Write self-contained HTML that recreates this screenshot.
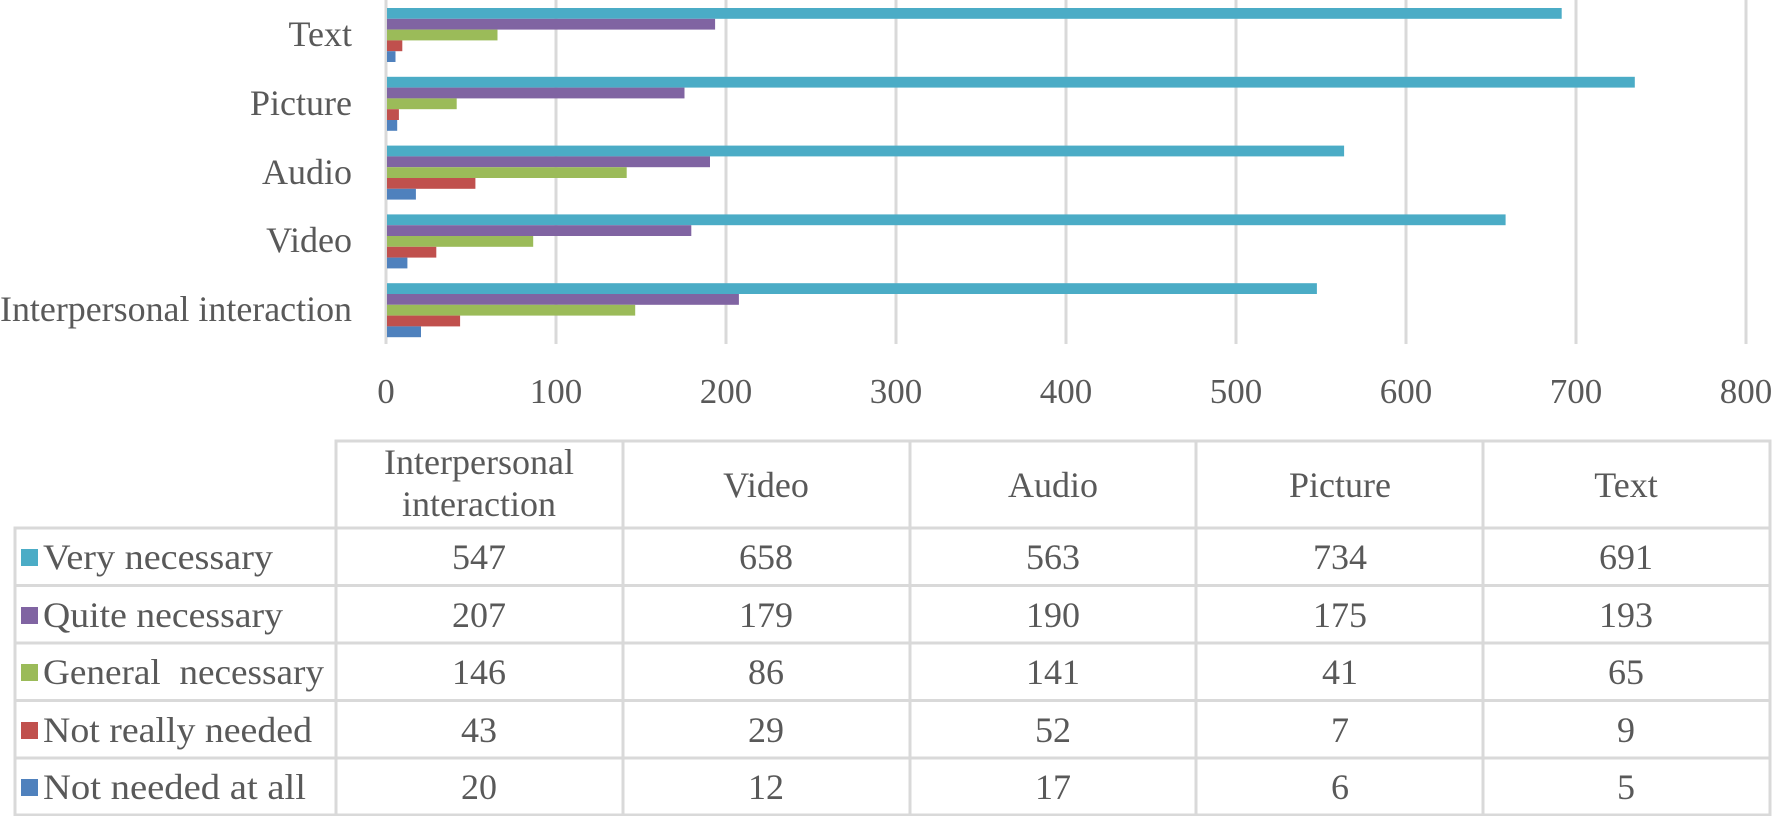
<!DOCTYPE html>
<html><head><meta charset="utf-8"><style>
html,body{margin:0;padding:0;background:#fff;}
svg{display:block;}
text{font-family:"Liberation Serif",serif;fill:#595959;}
</style></head><body>
<svg width="1772" height="816" viewBox="0 0 1772 816" xmlns="http://www.w3.org/2000/svg">
<g stroke="#d9d9d9" stroke-width="3">
<line x1="556" y1="0" x2="556" y2="344"/><line x1="726" y1="0" x2="726" y2="344"/><line x1="896" y1="0" x2="896" y2="344"/><line x1="1066" y1="0" x2="1066" y2="344"/><line x1="1236" y1="0" x2="1236" y2="344"/><line x1="1406" y1="0" x2="1406" y2="344"/><line x1="1576" y1="0" x2="1576" y2="344"/><line x1="1746" y1="0" x2="1746" y2="344"/>
<line x1="386" y1="0" x2="386" y2="344"/>
</g>
<g>
<rect x="387" y="8" width="1174.7" height="10.8" fill="#4BACC6"/>
<rect x="387" y="18.8" width="328.1" height="10.8" fill="#8064A2"/>
<rect x="387" y="29.6" width="110.5" height="10.8" fill="#9BBB59"/>
<rect x="387" y="40.4" width="15.3" height="10.8" fill="#C0504D"/>
<rect x="387" y="51.2" width="8.5" height="10.8" fill="#4F81BD"/>
<rect x="387" y="76.8" width="1247.8" height="10.8" fill="#4BACC6"/>
<rect x="387" y="87.6" width="297.5" height="10.8" fill="#8064A2"/>
<rect x="387" y="98.4" width="69.7" height="10.8" fill="#9BBB59"/>
<rect x="387" y="109.2" width="11.9" height="10.8" fill="#C0504D"/>
<rect x="387" y="120" width="10.2" height="10.8" fill="#4F81BD"/>
<rect x="387" y="145.6" width="957.1" height="10.8" fill="#4BACC6"/>
<rect x="387" y="156.4" width="323" height="10.8" fill="#8064A2"/>
<rect x="387" y="167.2" width="239.7" height="10.8" fill="#9BBB59"/>
<rect x="387" y="178" width="88.4" height="10.8" fill="#C0504D"/>
<rect x="387" y="188.8" width="28.9" height="10.8" fill="#4F81BD"/>
<rect x="387" y="214.4" width="1118.6" height="10.8" fill="#4BACC6"/>
<rect x="387" y="225.2" width="304.3" height="10.8" fill="#8064A2"/>
<rect x="387" y="236" width="146.2" height="10.8" fill="#9BBB59"/>
<rect x="387" y="246.8" width="49.3" height="10.8" fill="#C0504D"/>
<rect x="387" y="257.6" width="20.4" height="10.8" fill="#4F81BD"/>
<rect x="387" y="283.2" width="929.9" height="10.8" fill="#4BACC6"/>
<rect x="387" y="294" width="351.9" height="10.8" fill="#8064A2"/>
<rect x="387" y="304.8" width="248.2" height="10.8" fill="#9BBB59"/>
<rect x="387" y="315.6" width="73.1" height="10.8" fill="#C0504D"/>
<rect x="387" y="326.4" width="34" height="10.8" fill="#4F81BD"/>
</g>
<g font-size="36" text-anchor="end">
<text x="352" y="46">Text</text>
<text x="352" y="115">Picture</text>
<text x="352" y="184">Audio</text>
<text x="352" y="252">Video</text>
<text x="352" y="321" textLength="352" lengthAdjust="spacingAndGlyphs">Interpersonal interaction</text>
</g>
<g font-size="35" text-anchor="middle">
<text x="386" y="403">0</text><text x="556" y="403">100</text><text x="726" y="403">200</text><text x="896" y="403">300</text><text x="1066" y="403">400</text><text x="1236" y="403">500</text><text x="1406" y="403">600</text><text x="1576" y="403">700</text><text x="1746" y="403">800</text>
</g>
<g stroke="#d9d9d9" stroke-width="3" fill="none">
<rect x="336" y="441" width="1434" height="87"/>
<rect x="15" y="528" width="1755" height="287"/>
<line x1="15" y1="585.5" x2="1770" y2="585.5"/><line x1="15" y1="643" x2="1770" y2="643"/><line x1="15" y1="700.5" x2="1770" y2="700.5"/><line x1="15" y1="758" x2="1770" y2="758"/>
<line x1="336" y1="441" x2="336" y2="815"/><line x1="623" y1="441" x2="623" y2="815"/><line x1="910" y1="441" x2="910" y2="815"/><line x1="1196" y1="441" x2="1196" y2="815"/><line x1="1483" y1="441" x2="1483" y2="815"/>
</g>
<g font-size="36" text-anchor="middle">
<text x="479" y="474">Interpersonal</text><text x="479" y="516">interaction</text>
<text x="766" y="497">Video</text><text x="1053" y="497">Audio</text><text x="1340" y="497">Picture</text><text x="1626" y="497">Text</text>
<text x="479" y="569">547</text><text x="766" y="569">658</text><text x="1053" y="569">563</text><text x="1340" y="569">734</text><text x="1626" y="569">691</text>
<text x="479" y="627">207</text><text x="766" y="627">179</text><text x="1053" y="627">190</text><text x="1340" y="627">175</text><text x="1626" y="627">193</text>
<text x="479" y="684">146</text><text x="766" y="684">86</text><text x="1053" y="684">141</text><text x="1340" y="684">41</text><text x="1626" y="684">65</text>
<text x="479" y="742">43</text><text x="766" y="742">29</text><text x="1053" y="742">52</text><text x="1340" y="742">7</text><text x="1626" y="742">9</text>
<text x="479" y="799">20</text><text x="766" y="799">12</text><text x="1053" y="799">17</text><text x="1340" y="799">6</text><text x="1626" y="799">5</text>
</g>
<rect x="21" y="549" width="17" height="17" fill="#4BACC6"/>
<rect x="21" y="607" width="17" height="17" fill="#8064A2"/>
<rect x="21" y="664" width="17" height="17" fill="#9BBB59"/>
<rect x="21" y="722" width="17" height="17" fill="#C0504D"/>
<rect x="21" y="779" width="17" height="17" fill="#4F81BD"/>
<g font-size="36">
<text x="43" y="569" textLength="230" lengthAdjust="spacingAndGlyphs">Very necessary</text>
<text x="43" y="627" textLength="240" lengthAdjust="spacingAndGlyphs">Quite necessary</text>
<text x="43" y="684" textLength="281" lengthAdjust="spacingAndGlyphs" xml:space="preserve">General  necessary</text>
<text x="43" y="742" textLength="269" lengthAdjust="spacingAndGlyphs">Not really needed</text>
<text x="43" y="799" textLength="263" lengthAdjust="spacingAndGlyphs">Not needed at all</text>
</g>
</svg>
</body></html>
